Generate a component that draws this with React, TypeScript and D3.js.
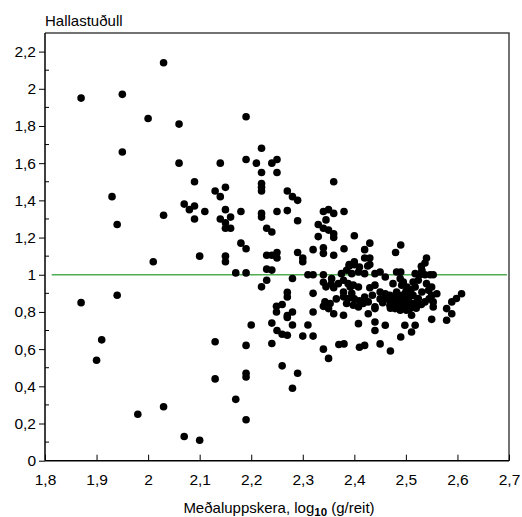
import * as d3 from "d3";
import { useEffect, useRef } from "react";

// [meðaluppskera log10, hallastuðull]
const leftPoints: [number, number][] = [
  [1.87, 1.95], [1.95, 1.97], [2.03, 2.14], [2.0, 1.84], [2.06, 1.81], [2.19, 1.85],
  [1.95, 1.66], [2.06, 1.6], [2.14, 1.6], [2.19, 1.62], [2.21, 1.6], [2.09, 1.5],
  [2.22, 1.68], [1.93, 1.42], [1.94, 1.27], [2.01, 1.07], [2.03, 1.32], [2.07, 1.38],
  [2.08, 1.35], [2.09, 1.37], [2.09, 1.3], [2.1, 1.1], [2.11, 1.34], [2.13, 1.45],
  [2.14, 1.42], [2.15, 1.47], [2.15, 1.35], [2.14, 1.3], [2.15, 1.28], [2.15, 1.25],
  [2.16, 1.31], [2.16, 1.25], [2.18, 1.34], [2.18, 1.17], [2.19, 1.14], [2.15, 1.1],
  [2.15, 1.07], [2.17, 1.01], [2.19, 1.01], [1.87, 0.85], [1.94, 0.89], [1.91, 0.65],
  [2.13, 0.64], [2.19, 0.62], [2.2, 0.73], [2.22, 0.935], [1.9, 0.54], [1.98, 0.25],
  [2.03, 0.29], [2.07, 0.13], [2.1, 0.11], [2.13, 0.44], [2.17, 0.33], [2.19, 0.47],
  [2.19, 0.45], [2.19, 0.22],
];

const middlePoints: [number, number][] = [
  [2.22, 1.55], [2.25, 1.55], [2.24, 1.6], [2.25, 1.62], [2.22, 1.49], [2.22, 1.47],
  [2.22, 1.45], [2.27, 1.45], [2.28, 1.42], [2.29, 1.4], [2.22, 1.33], [2.22, 1.31],
  [2.25, 1.34], [2.27, 1.345], [2.29, 1.29], [2.23, 1.25], [2.24, 1.23], [2.23, 1.105],
  [2.24, 1.105], [2.25, 1.12], [2.25, 1.09], [2.29, 1.12], [2.3, 1.09], [2.23, 1.03],
  [2.24, 1.025], [2.23, 0.97], [2.28, 0.98], [2.3, 1.07], [2.31, 1.0], [2.32, 1.0],
  [2.27, 0.905], [2.27, 0.88], [2.32, 0.9], [2.249, 0.83], [2.26, 0.84], [2.249, 0.8],
  [2.27, 0.78], [2.28, 0.8], [2.27, 0.77], [2.24, 0.74], [2.28, 0.73], [2.31, 0.73],
  [2.25, 0.7], [2.26, 0.68], [2.27, 0.675], [2.3, 0.67], [2.32, 0.67], [2.24, 0.63],
  [2.32, 0.8], [2.26, 0.51], [2.29, 0.47], [2.28, 0.39],
  [2.36, 1.5], [2.35, 1.35], [2.36, 1.33], [2.34, 1.34], [2.38, 1.34], [2.345, 1.295],
  [2.33, 1.27], [2.34, 1.25], [2.35, 1.24], [2.36, 1.22], [2.36, 1.2], [2.33, 1.205],
  [2.4, 1.21], [2.43, 1.17], [2.42, 1.135], [2.42, 1.09], [2.43, 1.09], [2.4, 1.07],
  [2.43, 1.055], [2.38, 1.14], [2.34, 1.145], [2.32, 1.135], [2.36, 1.105], [2.34, 1.115],
  [2.39, 1.055], [2.49, 1.16], [2.48, 1.12], [2.34, 1.0], [2.34, 0.96], [2.345, 0.935],
  [2.39, 1.047], [2.4, 1.054], [2.41, 1.042], [2.426, 1.047], [2.385, 1.024], [2.375, 1.006],
  [2.395, 1.006], [2.408, 1.015], [2.42, 1.006], [2.44, 1.006], [2.45, 1.015], [2.46, 0.988],
  [2.482, 1.015], [2.49, 1.015], [2.356, 0.979], [2.355, 0.95], [2.369, 0.952], [2.379, 0.97],
  [2.388, 0.952], [2.398, 0.944], [2.408, 0.934], [2.392, 0.934], [2.379, 0.907], [2.379, 0.881],
  [2.388, 0.872], [2.398, 0.836], [2.385, 0.845], [2.408, 0.827], [2.417, 0.845], [2.427, 0.854],
  [2.44, 0.827], [2.343, 0.854], [2.353, 0.845], [2.35, 0.818], [2.36, 0.79], [2.379, 0.782],
  [2.34, 0.83], [2.427, 0.79], [2.44, 0.818], [2.44, 0.746], [2.44, 0.7], [2.46, 0.728],
  [2.408, 0.737], [2.44, 0.944], [2.45, 0.907], [2.46, 0.898], [2.469, 0.89], [2.479, 0.872],
  [2.485, 0.854], [2.492, 0.89], [2.482, 0.907], [2.492, 0.944], [2.475, 0.952], [2.469, 0.836],
  [2.479, 0.818], [2.489, 0.809], [2.475, 0.845], [2.46, 0.87], [2.47, 0.86], [2.49, 0.88],
  [2.465, 0.88], [2.48, 0.89], [2.495, 0.85], [2.485, 0.83], [2.47, 0.82], [2.455, 0.85],
  [2.4, 0.87], [2.41, 0.86], [2.395, 0.9], [2.42, 0.88], [2.43, 0.93], [2.365, 0.87],
  [2.36, 0.93], [2.45, 0.87], [2.435, 0.89],
  [2.34, 0.6], [2.35, 0.55], [2.37, 0.625], [2.38, 0.628], [2.41, 0.61], [2.42, 0.62],
  [2.45, 0.628], [2.47, 0.59], [2.49, 0.665],
];

const rightPoints: [number, number][] = [
  [2.54, 1.09], [2.537, 1.063], [2.53, 1.046], [2.531, 1.024], [2.518, 1.006], [2.527, 1.0],
  [2.537, 1.0], [2.547, 1.0], [2.553, 1.0], [2.489, 0.979], [2.495, 0.961], [2.514, 0.961],
  [2.524, 0.97], [2.54, 0.952], [2.55, 0.934], [2.56, 0.898], [2.502, 0.934], [2.518, 0.934],
  [2.531, 0.907], [2.544, 0.916], [2.55, 0.889], [2.553, 0.854], [2.553, 0.827], [2.537, 0.854],
  [2.524, 0.872], [2.514, 0.889], [2.502, 0.889], [2.511, 0.845], [2.498, 0.836], [2.508, 0.818],
  [2.511, 0.782], [2.501, 0.809], [2.55, 0.76], [2.608, 0.898], [2.598, 0.872], [2.589, 0.854],
  [2.579, 0.818], [2.589, 0.79], [2.579, 0.755], [2.498, 0.728], [2.518, 0.728], [2.511, 0.692],
  [2.5, 0.86], [2.505, 0.87], [2.52, 0.85], [2.52, 0.82], [2.53, 0.84], [2.545, 0.87],
  [2.5, 0.91], [2.51, 0.92],
];

const xTicks = [1.8, 1.9, 2.0, 2.1, 2.2, 2.3, 2.4, 2.5, 2.6, 2.7];
const yTicks = [0, 0.2, 0.4, 0.6, 0.8, 1, 1.2, 1.4, 1.6, 1.8, 2, 2.2];
const yMinorTicks = [0.1, 0.3, 0.5, 0.7, 0.9, 1.1, 1.3, 1.5, 1.7, 1.9, 2.1];
const referenceLine = 1;

const fmt = (d: number) => String(+d.toFixed(1)).replace(".", ",");

export default function App() {
  const ref = useRef<SVGSVGElement>(null);
  const width = 522;
  const height = 517;

  useEffect(() => {
    const svg = d3.select(ref.current);
    svg.selectAll("*").remove();

    const left = 45, right = 509, top = 33, bottom = 460.7;
    const font = "'Liberation Sans', Arial, sans-serif";

    // Scales
    const x = d3.scaleLinear().domain([1.8, 2.7]).range([left, right]);
    const y = d3.scaleLinear().domain([0, 2.3]).range([bottom, top]);

    // frame (top/right)
    svg.append("path")
      .attr("d", `M${left},${top}H${right}V${bottom}`)
      .attr("fill", "none")
      .attr("stroke", "#444")
      .attr("stroke-width", 1.5);

    // reference line at 1
    svg.append("line")
      .attr("x1", x(1.813)).attr("x2", x(2.696))
      .attr("y1", y(referenceLine)).attr("y2", y(referenceLine))
      .attr("stroke", "#4fad4f")
      .attr("stroke-width", 1.5);

    // Axes
    const xAxis = d3.axisBottom(x).tickValues(xTicks).tickSize(-6).tickPadding(13).tickFormat((d) => fmt(+d));
    const yAxis = d3.axisLeft(y).tickValues(yTicks).tickSize(6).tickPadding(3).tickFormat((d) => fmt(+d));

    const gx = svg.append("g").attr("transform", `translate(0,${bottom})`).call(xAxis);
    const gy = svg.append("g").attr("transform", `translate(${left},0)`).call(yAxis);

    // minor y ticks (inside)
    gy.selectAll("line.minor")
      .data(yMinorTicks)
      .enter()
      .append("line")
      .attr("class", "minor")
      .attr("x1", 0).attr("x2", 4)
      .attr("y1", (d) => y(d)).attr("y2", (d) => y(d))
      .attr("stroke", "#000");

    [gx, gy].forEach((g) => {
      g.select(".domain").attr("stroke", "#000").attr("stroke-width", 1.5);
      g.selectAll(".tick line").attr("stroke", "#000");
      g.selectAll("text")
        .attr("font-family", font)
        .attr("font-size", 15.5)
        .attr("fill", "#000");
    });
    gx.select(".domain").attr("d", `M${left},0H${right}`);
    gy.select(".domain").attr("d", `M0,${top}V${bottom}`);

    // points
    const all = [...leftPoints, ...middlePoints, ...rightPoints];
    svg.append("g")
      .selectAll("circle")
      .data(all)
      .enter()
      .append("circle")
      .attr("cx", (d) => x(d[0]))
      .attr("cy", (d) => y(d[1]))
      .attr("r", 3.8)
      .attr("fill", "#000");

    // titles
    svg.append("text")
      .attr("x", left)
      .attr("y", 26)
      .attr("font-family", font)
      .attr("font-size", 15)
      .text("Hallastuðull");

    const xl = svg.append("text")
      .attr("x", (left + right) / 2 + 2)
      .attr("y", 513)
      .attr("text-anchor", "middle")
      .attr("font-family", font)
      .attr("font-size", 15);
    xl.append("tspan").text("Meðaluppskera, log");
    xl.append("tspan").attr("dy", 3).attr("font-size", 11.5).attr("font-weight", "bold").text("10");
    xl.append("tspan").attr("dy", -3).text(" (g/reit)");
  }, []);

  return (
    <svg
      ref={ref}
      width={width}
      height={height}
      style={{ position: "absolute", left: 0, top: 0, background: "#fff" }}
    />
  );
}
